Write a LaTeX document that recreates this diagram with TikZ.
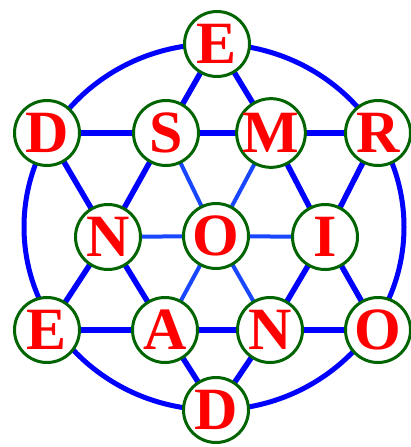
\documentclass[tikz,border=0pt]{standalone}
\usepackage{fontspec}
\setmainfont{Liberation Serif}
\usetikzlibrary{backgrounds}
\definecolor{starblue}{RGB}{0,0,255}
\definecolor{thinblue}{RGB}{25,70,255}
\definecolor{ringgreen}{RGB}{0,100,0}
\definecolor{letterred}{RGB}{255,0,0}
\tikzset{
  letternode/.style={circle, draw=ringgreen, line width=3pt, fill=white,
    minimum size=65pt, inner sep=0pt, text=letterred,
    font=\fontsize{60}{60}\selectfont\bfseries},
  staredge/.style={draw=starblue, line width=5.5pt},
  spoke/.style={draw=thinblue, line width=4pt},
  ring/.style={draw=starblue, line width=5pt}
}
\begin{document}
\begin{tikzpicture}[x=1pt,y=-1pt]
\useasboundingbox (0,0) rectangle (411,447);
\node[letternode] (E1) at (217,44) {E};
\node[letternode] (D1) at (47,133) {D};
\node[letternode] (S) at (166,133) {S};
\node[letternode] (M) at (271,133) {M};
\node[letternode] (R) at (378,133) {R};
\node[letternode] (N1) at (108,237) {N};
\node[letternode] (O1) at (216,236) {O};
\node[letternode] (I) at (325,237) {I};
\node[letternode] (E2) at (47,330) {E};
\node[letternode] (A) at (165,330) {A};
\node[letternode] (N2) at (270,330) {N};
\node[letternode] (O2) at (378,330) {O};
\node[letternode] (D2) at (216,410) {D};
\begin{scope}[on background layer]
  \coordinate (ctr) at (214,227);
  \draw[ring] (ctr) ellipse [x radius=190pt, y radius=183pt];
  % upward triangle
  \draw[staredge] (E1.center) -- (S.center) -- (N1.center) -- (E2.center);
  \draw[staredge] (E2.center) -- (A.center) -- (N2.center) -- (O2.center);
  \draw[staredge] (O2.center) -- (I.center) -- (M.center) -- (E1.center);
  % downward triangle
  \draw[staredge] (D1.center) -- (S.center) -- (M.center) -- (R.center);
  \draw[staredge] (R.center) -- (I.center) -- (N2.center) -- (D2.center);
  \draw[staredge] (D2.center) -- (A.center) -- (N1.center) -- (D1.center);
  % spokes
  \foreach \t in {S,M,I,N2,A,N1} \draw[spoke] (O1.center) -- (\t.center);
\end{scope}
\end{tikzpicture}
\end{document}
